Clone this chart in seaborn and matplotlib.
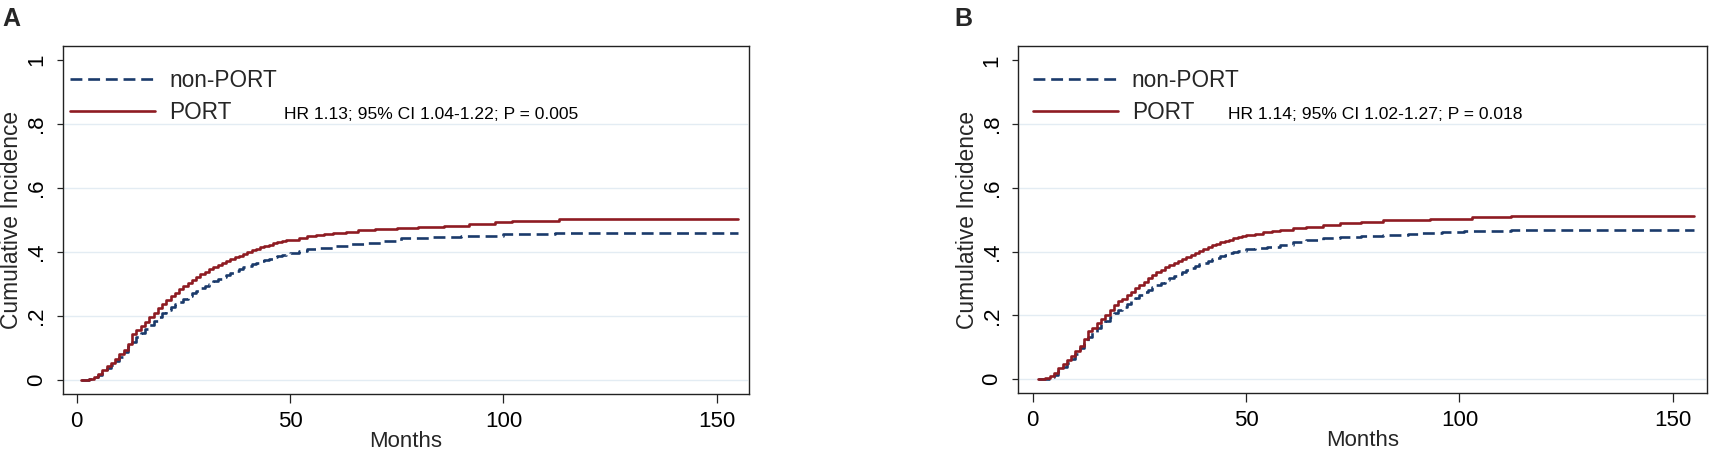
import matplotlib
matplotlib.use("Agg")
import matplotlib.pyplot as plt
import seaborn as sns
import pandas as pd
from matplotlib.lines import Line2D

sns.set_theme(style="white")
plt.rcParams['font.family'] = ['Liberation Sans', 'DejaVu Sans']

# ---------------- data ----------------
a_port_months = [1, 3, 4, 5, 6, 7, 8, 9, 10, 11, 12, 13, 14, 15, 16, 17, 18, 19, 20,
                 21, 22, 23, 24, 25, 26, 27, 28, 29, 30, 31, 32, 33, 34, 35, 36, 37, 38,
                 39, 40, 41, 42, 43, 44, 45, 46, 47, 48, 49, 50, 52, 54, 56, 58, 60, 63,
                 66, 70, 75, 80, 86, 92, 98, 102, 113, 155]
a_port_ci = [0.0, 0.003, 0.01, 0.02, 0.03, 0.042, 0.054, 0.066, 0.08, 0.095, 0.112, 0.145,
             0.155, 0.168, 0.182, 0.198, 0.21, 0.225, 0.238, 0.25, 0.262, 0.273, 0.284,
             0.294, 0.303, 0.312, 0.321, 0.33, 0.338, 0.346, 0.353, 0.36, 0.366, 0.372,
             0.377, 0.383, 0.389, 0.395, 0.4, 0.405, 0.41, 0.415, 0.419, 0.423, 0.427,
             0.43, 0.433, 0.436, 0.439, 0.445, 0.45, 0.454, 0.457, 0.46, 0.464, 0.468,
             0.472, 0.475, 0.478, 0.482, 0.488, 0.493, 0.497, 0.502, 0.502]

a_non_months = [1, 3, 4, 5, 6, 7, 8, 9, 10, 11, 12, 13, 14, 15, 16, 17, 18, 19, 20, 21,
                22, 23, 24, 25, 26, 27, 28, 29, 30, 31, 32, 33, 34, 35, 36, 37, 38, 39,
                40, 41, 42, 43, 44, 45, 46, 47, 48, 49, 50, 52, 54, 57, 60, 64, 68, 72,
                76, 83, 90, 100, 112, 155]
a_non_ci = [0.0, 0.002, 0.008, 0.016, 0.025, 0.036, 0.048, 0.06, 0.073, 0.087, 0.105,
            0.12, 0.135, 0.148, 0.16, 0.173, 0.185, 0.197, 0.208, 0.218, 0.227, 0.236,
            0.245, 0.254, 0.263, 0.271, 0.279, 0.287, 0.294, 0.301, 0.308, 0.315, 0.322,
            0.329, 0.335, 0.341, 0.347, 0.352, 0.357, 0.362, 0.367, 0.371, 0.375, 0.379,
            0.383, 0.387, 0.391, 0.394, 0.397, 0.403, 0.408, 0.413, 0.42, 0.424, 0.428,
            0.435, 0.443, 0.447, 0.451, 0.456, 0.46, 0.46]

b_port_months = [1.3, 3, 4, 5, 6, 7, 8, 9, 10, 11, 12, 13, 14, 15, 16, 17, 18, 19, 20,
                 21, 22, 23, 24, 25, 26, 27, 28, 29, 30, 31, 32, 33, 34, 35, 36, 37, 38,
                 39, 40, 41, 42, 43, 44, 45, 46, 47, 48, 49, 50, 52, 54, 56, 58, 61, 64,
                 68, 72, 77, 82, 93, 103, 112, 155]
b_port_ci = [0.0, 0.004, 0.01, 0.02, 0.035, 0.048, 0.06, 0.074, 0.088, 0.105, 0.125,
             0.152, 0.162, 0.175, 0.19, 0.202, 0.218, 0.232, 0.244, 0.253, 0.263, 0.273,
             0.285, 0.296, 0.306, 0.317, 0.327, 0.335, 0.343, 0.351, 0.358, 0.365, 0.371,
             0.377, 0.383, 0.39, 0.396, 0.402, 0.408, 0.414, 0.42, 0.425, 0.43, 0.434,
             0.438, 0.442, 0.445, 0.448, 0.451, 0.456, 0.461, 0.465, 0.468, 0.473, 0.478,
             0.484, 0.49, 0.494, 0.499, 0.502, 0.508, 0.512, 0.512]

b_non_months = [1.3, 3, 4, 5, 6, 7, 8, 9, 10, 11, 12, 13, 14, 15, 16, 17, 18, 19, 20, 21,
                22, 23, 24, 25, 26, 27, 28, 29, 30, 31, 32, 33, 34, 35, 36, 37, 38, 39,
                40, 41, 42, 43, 44, 45, 46, 47, 48, 50, 52, 55, 58, 61, 64, 68, 72, 77,
                82, 88, 91, 96, 101, 106, 112, 155]
b_non_ci = [0.0, 0.002, 0.007, 0.015, 0.027, 0.04, 0.052, 0.065, 0.08, 0.097, 0.115,
            0.133, 0.148, 0.16, 0.172, 0.184, 0.196, 0.207, 0.218, 0.227, 0.236, 0.245,
            0.255, 0.264, 0.273, 0.28, 0.288, 0.295, 0.302, 0.31, 0.317, 0.324, 0.33,
            0.337, 0.343, 0.349, 0.355, 0.361, 0.366, 0.371, 0.376, 0.381, 0.386, 0.391,
            0.395, 0.399, 0.402, 0.407, 0.412, 0.415, 0.42, 0.432, 0.438, 0.443, 0.446,
            0.449, 0.452, 0.454, 0.458, 0.461, 0.464, 0.466, 0.468, 0.468]

group_labels = ["non-PORT", "PORT"]
panel_labels = ["A", "B"]
hr_texts = ["HR 1.13; 95% CI 1.04-1.22; P = 0.005",
            "HR 1.14; 95% CI 1.02-1.27; P = 0.018"]
x_ticks = [0, 50, 100, 150]
y_ticks = [0, 0.2, 0.4, 0.6, 0.8, 1.0]
y_tick_labels = ["0", ".2", ".4", ".6", ".8", "1"]
grid_vals = [0, 0.2, 0.4, 0.6, 0.8]

# ---------------- styling ----------------
NAVY = "#1a3a6b"
RED = "#8e1b22"
GRID = "#e3ecf3"
DASH = (4.5, 2.2)
LW = 1.9

W, H = 1709, 454
fig = plt.figure(figsize=(W / 100, H / 100), dpi=100)

panels = [
    dict(rect=(62.7 / W, 1 - 394 / H, (749 - 62.7) / W, (394 - 46) / H),
         xlim=(-3.28, 157.56), ylim=(-0.044, 1.044),
         non=(a_non_months, a_non_ci), port=(a_port_months, a_port_ci),
         hr_x=0.3225, leg_x=0.011, label_x=2 / W),
    dict(rect=(1018.3 / W, 1 - 393 / H, (1707 - 1018.3) / W, (393 - 46) / H),
         xlim=(-3.37, 158.0), ylim=(-0.043, 1.045),
         non=(b_non_months, b_non_ci), port=(b_port_months, b_port_ci),
         hr_x=0.3045, leg_x=0.021, label_x=954 / W),
]

for i, p in enumerate(panels):
    ax = fig.add_axes(p["rect"])
    for g in grid_vals:
        ax.axhline(g, color=GRID, lw=1.0, zorder=0, xmin=0.0, xmax=0.997)

    df_non = pd.DataFrame({"Months": p["non"][0], "CI": p["non"][1]})
    df_port = pd.DataFrame({"Months": p["port"][0], "CI": p["port"][1]})
    sns.lineplot(data=df_non, x="Months", y="CI", ax=ax, color=NAVY, lw=LW,
                 drawstyle="steps-post", estimator=None, sort=False)
    ax.lines[-1].set_dashes(DASH)
    sns.lineplot(data=df_port, x="Months", y="CI", ax=ax, color=RED, lw=LW,
                 drawstyle="steps-post", estimator=None, sort=False)

    ax.set_xlim(*p["xlim"])
    ax.set_ylim(*p["ylim"])
    ax.set_xticks(x_ticks)
    ax.set_xticklabels([str(t) for t in x_ticks])
    ax.set_yticks(y_ticks)
    ax.set_yticklabels(y_tick_labels, rotation=90, va="center")
    ax.tick_params(axis="x", length=6.5, width=0.9, color="#222222", pad=6,
                   labelsize=16, labelcolor="black", bottom=True)
    ax.tick_params(axis="y", length=4.3, width=0.9, color="#222222", pad=7,
                   labelsize=16, labelcolor="black", left=True)
    for s in ax.spines.values():
        s.set_color("#222222")
        s.set_linewidth(1.0)
        s.set_visible(True)
    ax.set_xlabel("Months", fontsize=16, labelpad=-1)
    ax.set_ylabel("Cumulative Incidence", fontsize=16.4, labelpad=2)

    handles = [Line2D([], [], color=NAVY, lw=LW, dashes=DASH),
               Line2D([], [], color=RED, lw=LW)]
    ax.legend(handles, group_labels, loc="upper left",
              bbox_to_anchor=(p["leg_x"], 0.933), frameon=False, fontsize=16.3,
              handlelength=3.75, handletextpad=0.62, labelspacing=0.40,
              borderpad=0, borderaxespad=0)
    ax.text(p["hr_x"], 0.790, hr_texts[i], transform=ax.transAxes,
            fontsize=12.6, va="baseline", ha="left", color="black")

    fig.text(p["label_x"], 1 - 7 / H, panel_labels[i], fontsize=18,
             fontweight="bold", va="top", ha="left")

fig.savefig("out.png", dpi=100)
